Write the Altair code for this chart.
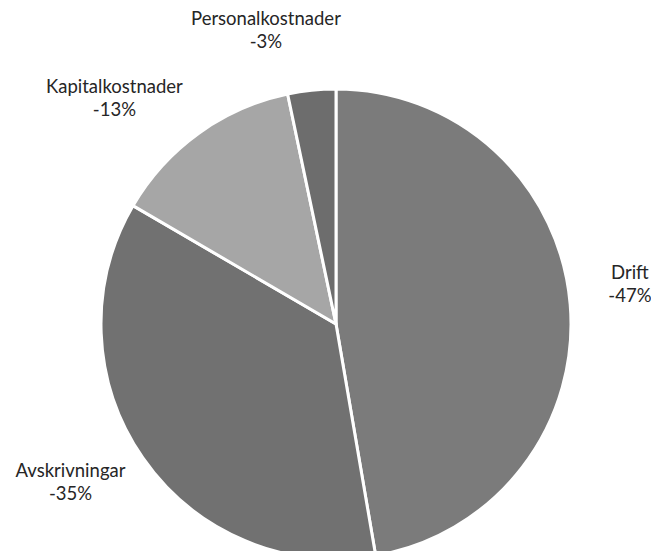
import altair as alt
import pandas as pd

categories = ["Drift", "Avskrivningar", "Kapitalkostnader", "Personalkostnader"]
shares = [47.3, 36.1, 13.3, 3.3]
pct_labels = ["-47%", "-35%", "-13%", "-3%"]
colors = ["#7b7b7b", "#717171", "#a6a6a6", "#6d6d6d"]

df = pd.DataFrame({
    "cat": categories,
    "share": shares,
    "order": list(range(len(categories))),
    "label": [f"{c}\n{p}" for c, p in zip(categories, pct_labels)],
})

CX, CY, R = 328, 316, 235

pie = alt.Chart(df).mark_arc(outerRadius=R, stroke="white", strokeWidth=3).encode(
    theta=alt.Theta("share:Q", stack=True),
    order=alt.Order("order:Q"),
    color=alt.Color("cat:N", scale=alt.Scale(domain=categories, range=colors), legend=None),
    x=alt.value(CX),
    y=alt.value(CY),
)

offsets = {
    "Drift": (-5, -26),
    "Avskrivningar": (-19, -24),
    "Kapitalkostnader": (-46, 6),
    "Personalkostnader": (-39, -7),
}

layers = [pie]
for c in categories:
    dx, dy = offsets[c]
    t = alt.Chart(df).transform_joinaggregate(
        total="sum(share)"
    ).transform_window(
        cum="sum(share)", sort=[alt.SortField("order")], frame=[None, 0]
    ).transform_calculate(
        mid="(datum.cum - datum.share/2) / datum.total * 2 * PI"
    ).transform_filter(
        alt.datum.cat == c
    ).mark_text(
        font="Lato", fontSize=18.5, lineBreak="\n", lineHeight=23,
        color="#262626", align="center", baseline="middle", dx=dx, dy=dy,
    ).encode(
        text="label:N",
        theta=alt.Theta("mid:Q", scale=alt.Scale(domain=[0, 2 * 3.141592653589793], range=[0, 2 * 3.141592653589793])),
        radius=alt.value(300),
        x=alt.value(CX),
        y=alt.value(CY),
    )
    layers.append(t)

chart = alt.layer(*layers).properties(
    width=643, height=543, padding=0, autosize="none"
).resolve_scale(theta="independent").configure_view(stroke=None)

chart.save("out.html", embed_options={"renderer": "svg", "actions": False})
